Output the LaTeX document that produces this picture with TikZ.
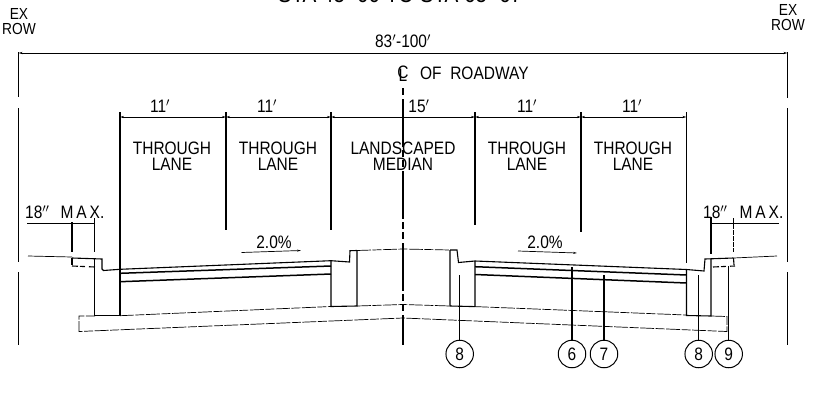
\documentclass[tikz,border=0pt]{standalone}
\usepackage{fontspec}
\setmainfont[FakeStretch=0.86]{Liberation Sans}
\usetikzlibrary{arrows.meta}
\tikzset{
  x=1pt,y=-1pt,
  lbl/.style={inner sep=0pt,font=\fontsize{18}{18}\selectfont,align=center},
  lbltwo/.style={inner sep=0pt,font=\fontsize{18}{16}\selectfont,align=center},
  rowlbl/.style={inner sep=0pt,font=\fontsize{16}{15}\selectfont,align=center},
  solidln/.style={line width=1.1pt,line join=miter},
  heavy/.style={line width=1.5pt},
  thinln/.style={line width=0.7pt},
  thindash/.style={line width=0.7pt,dash pattern=on 14pt off 1.5pt on 9pt off 1.5pt},
  dimln/.style={line width=0.9pt,{Stealth[length=4pt,width=2.2pt]}-{Stealth[length=4pt,width=2.2pt]}},
  tag/.style={circle,draw,line width=1pt,minimum size=27.5pt,inner sep=0pt,font=\fontsize{18}{18}\selectfont},
  leader/.style={line width=1.1pt},
}
\begin{document}
\begin{tikzpicture}
\useasboundingbox (0,0) rectangle (817,402);
% clipped title
\node[inner sep=0pt,anchor=base,font=\fontsize{24}{24}\selectfont] (title) at (400,2.5) {STA 45+00 TO STA 65+67};
% ROW labels and limits
\node[rowlbl] (rowl) at (19,21.5) {EX\\ROW};
\node[rowlbl] (rowr) at (788,18) {EX\\ROW};
\coordinate (la) at (18.5,52); \coordinate (lb) at (18.5,345);
\coordinate (ra) at (787.5,52); \coordinate (rb) at (787.5,345);
\draw[thinln] (la) -- (18.5,97) (18.5,108) -- (18.5,262) (18.5,272) -- (lb);
\draw[thinln] (ra) -- (787.5,98) (787.5,108) -- (787.5,262) (787.5,272) -- (rb);
\draw[dimln] (la |- 0,53) -- (ra |- 0,53);
\node[lbl] (total) at (403,41) {83$'$-100$'$};
% centre line
\node[lbl] (clsym) at (403,73.5) {\makebox[0pt]{C}\makebox[0pt]{\raisebox{-3pt}{L}}};
\node[lbl,anchor=west] (cltext) at (420,73.5) {OF\ \ ROADWAY};
\coordinate (cla) at (403,88); \coordinate (clb) at (403,345);
\draw[line width=1.4pt,dash pattern=on 7pt off 4pt on 48pt off 3pt on 7pt off 3pt] (cla) -- (clb);
% lane limits
\foreach \n/\x/\yb in {a/120/262,b/226/230,c/331/230,d/475/225,e/581/232,f/686.5/263}{
  \coordinate (t\n) at (\x,112);
  \coordinate (u\n) at (\x,\yb);
  \draw[solidln] (t\n) -- (u\n);
}
\foreach \p/\q in {a/b,b/c,c/d,d/e,e/f}{
  \draw[dimln] ([yshift=-5pt]t\p) -- ([yshift=-5pt]t\q);
}
\foreach \n/\x/\t in {da/160/11,db/267/11,dc/419/15,dd/527/11,de/632/11}{
  \node[lbl] (\n) at (\x,106) {\t$'$};
}
\foreach \n/\x/\t in {l1/172/THROUGH\\LANE,l2/278/THROUGH\\LANE,l3/403/LANDSCAPED\\MEDIAN,l4/527/THROUGH\\LANE,l5/633/THROUGH\\LANE}{
  \node[lbltwo] (\n) at (\x,156) {\t};
}
% 18 in. max
\node[lbl,anchor=west] (maxl) at (25,212) {18$''$\hspace{11pt}M\,A\,X.};
\node[lbl,anchor=west] (maxr) at (703,212) {18$''$\hspace{12pt}M\,A\,X.};
\draw[thinln] (27,223) -- (94.5,223);
\draw[thinln] (711,223) -- (779,223);
\draw[solidln] (72,222) -- (72,252);
\draw[solidln] (94.5,218) -- (94.5,252);
\draw[solidln] (711,217) -- (711,254);
\draw[solidln,dash pattern=on 5pt off 1pt] (733.5,218) -- (733.5,252);
% 2 percent
\node[lbl] (pl) at (274,242) {2.0\%};
\node[lbl] (pr) at (545,242) {2.0\%};
\draw[thinln,-{Stealth[length=4pt,width=2pt]}] (241.5,252.5) -- (301,250.5);
\draw[thinln,-{Stealth[length=4pt,width=2pt]}] (518,251) -- (577,253);
% subbase (dashed)
\draw[thindash] (120,315.7) -- (331,306.5);
\draw[thindash] (357,306) -- (403,304.5) -- (450,306);
\draw[thindash] (475,306.6) -- (686,315);
\draw[thindash] (711,316) -- (727,316.5) -- (727,331.5) -- (403,318) -- (79,331.5) -- (79,316) -- (95,316);
% left roadway surface
\draw[thinln] (28,256) -- (72,257);
\draw[solidln] (72,258) -- (102,259) -- (102,269) -- (103.5,270.5) -- (120,269.3) -- (331,260.7) -- (349.5,262) -- (350,250.7) -- (357,250.5);
\draw[thindash] (357,250.5) -- (403,249) -- (450,250);
\draw[solidln] (450,250) -- (457,250) -- (458.5,262.5) -- (475,261) -- (686.5,269.5) -- (704,271) -- (705,259) -- (733.5,258);
\draw[thinln] (733.5,258) -- (777,256);
% curb details
\draw[solidln] (72,258) -- (72,265);
\draw[solidln,dash pattern=on 6pt off 2pt on 5pt off 4pt on 6pt off 1pt] (72,266) -- (95,267);
\draw[solidln] (733.5,258) -- (734,265);
\draw[solidln,dash pattern=on 6pt off 2pt on 5pt off 4pt on 6pt off 1pt] (713,267) -- (735,266);
% pavement layers
\draw[heavy] (120,273.3) -- (331,266);
\draw[heavy] (120,281.7) -- (331,274);
\draw[heavy] (475,266.7) -- (686.5,275);
\draw[heavy] (475,274.5) -- (686.5,283);
% curb and gutter bodies
\draw[solidln] (94.5,259) -- (94.5,315.7) -- (120,315.7) -- (120,262);
\draw[solidln] (331,260.7) -- (331,306.5) -- (357,306) -- (357,250.5);
\draw[solidln] (450,250) -- (450,306) -- (475,306.6) -- (475,261);
\draw[solidln] (686.5,270) -- (686.5,315.5) -- (711,316) -- (711,258.5);
% call-outs
\node[tag] (c8a) at (459.7,354) {8};
\node[tag] (c6) at (572,354) {6};
\node[tag] (c7) at (604,354) {7};
\node[tag] (c8b) at (698.7,354) {8};
\node[tag] (c9) at (728.7,354) {9};
\coordinate (e8a) at (459.7,275);
\coordinate (e6) at (572,267);
\coordinate (e7) at (604,275);
\coordinate (e8b) at (698.7,275);
\coordinate (e9) at (728.7,266);
\foreach \n/\m in {c8a/e8a,c6/e6,c7/e7,c8b/e8b,c9/e9}{
  \draw[leader] (\n) -- (\m);
}
\end{tikzpicture}
\end{document}
